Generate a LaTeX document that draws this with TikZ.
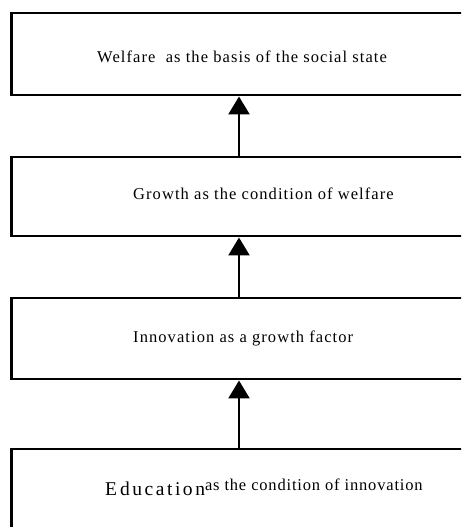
\documentclass[tikz,border=0pt]{standalone}
\usepackage{fontspec}
\setmainfont{Liberation Serif}
\usetikzlibrary{arrows.meta, positioning}

\begin{document}
\begin{tikzpicture}[x=1pt, y=1pt,
  stage/.style={draw, line width=2.5pt, rectangle, anchor=north west,
    minimum width=520pt, inner sep=0pt},
  caption/.style={anchor=base west, inner sep=0pt,
    font=\fontsize{16.5}{18}\selectfont\addfontfeature{LetterSpace=6.5}},
  up/.style={-{Triangle[length=18pt, width=21pt]}, line width=2.5pt}]
\useasboundingbox (0,0) rectangle (461,527);
\clip (0,0) rectangle (461,527);
% the four stages, top to bottom
\node[stage, minimum height=82pt] (welfare) at (10,515) {};
\node[stage, minimum height=79pt] (growth) at (10,371) {};
\node[stage, minimum height=81pt] (innovation) at (10,230) {};
\node[stage, minimum height=110pt] (education) at (10,79) {};
\coordinate (spine) at (239,0);
\node[caption] (welfaretext) at (97,464) {Welfare~~as the basis of the social state};
\node[caption] (growthtext) at (133,327) {Growth as the condition of welfare};
\node[caption] (innovationtext) at (133,184) {Innovation as a growth factor};
\node[caption] (educationtext) at (105,31)
  {{\fontsize{19.5}{20}\selectfont\addfontfeature{LetterSpace=13}E\kern3pt ducation}%
   \raisebox{5pt}{\fontsize{16.5}{18}\selectfont\addfontfeature{LetterSpace=5}as the condition of innovation}};
% arrows
\draw[up] (growth.north -| spine) -- (welfare.south -| spine);
\draw[up] (innovation.north -| spine) -- (growth.south -| spine);
\draw[up] (education.north -| spine) -- (innovation.south -| spine);
\end{tikzpicture}
\end{document}
